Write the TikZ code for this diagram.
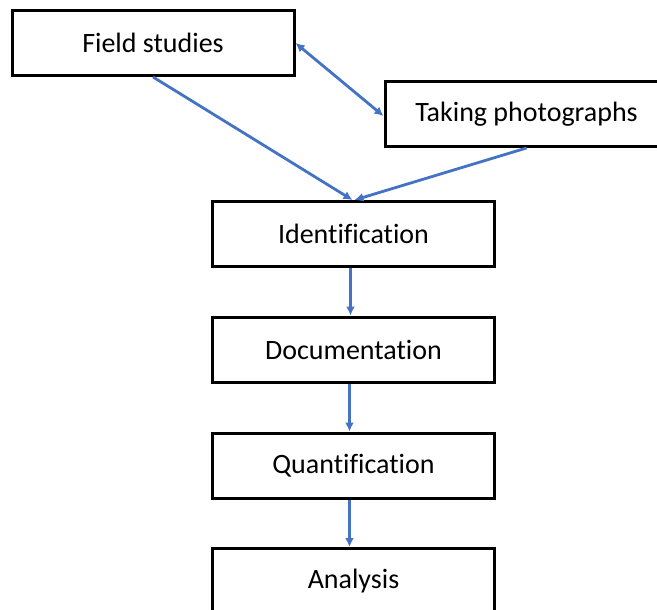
\documentclass[tikz,border=0pt]{standalone}
\usepackage{fontspec}
\setmainfont[Ligatures=NoCommon]{Carlito}
\usetikzlibrary{arrows.meta}
\definecolor{arrowblue}{HTML}{4472C4}
\tikzset{
  box/.style={draw=black, line width=3pt, fill=white, minimum width=282pt, minimum height=65pt, inner sep=0pt, font=\fontsize{28}{33}\selectfont},
  link/.style={draw=arrowblue, line width=2.8pt, -{Latex[length=9pt,width=9pt]}},
  duolink/.style={draw=arrowblue, line width=2.8pt, {Latex[length=9pt,width=9pt]}-{Latex[length=9pt,width=9pt]}}
}
\begin{document}
\begin{tikzpicture}[x=1pt,y=-1pt]
\clip (0,0) rectangle (657,610);
\fill[white] (0,0) rectangle (657,610);
\node[box] (fs) at (153,43) {Field studies};
\node[box, minimum width=283pt] (tp) at (526.5,114) {Taking photographs};
\node[box] (id) at (353.5,234) {Identification};
\node[box] (doc) at (353.5,349.5) {Documentation};
\node[box] (qu) at (353.5,465.5) {Quantification};
\node[box] (an) at (353.5,581) {Analysis};
\draw[link] (fs.south) -- ([xshift=-1pt]id.north);
\draw[link] (tp.south) -- ([xshift=1pt]id.north);
\draw[duolink] (fs.east) -- ([yshift=-2pt]tp.west);
\draw[link] ([xshift=-3pt]id.south) -- ([xshift=-3pt]doc.north);
\draw[link] ([xshift=-4pt]doc.south) -- ([xshift=-4pt]qu.north);
\draw[link] ([xshift=-4pt]qu.south) -- ([xshift=-4pt]an.north);
\end{tikzpicture}
\end{document}
